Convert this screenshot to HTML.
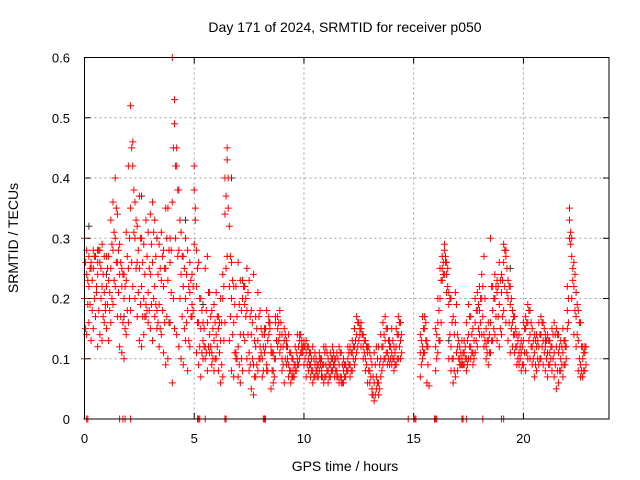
<!DOCTYPE html>
<html><head><meta charset="utf-8"><style>
body{margin:0;background:#fff;}
svg{display:block;font-family:"Liberation Sans",sans-serif;}
</style></head><body>
<svg id="chart" width="640" height="480" viewBox="0 0 640 480" xmlns="http://www.w3.org/2000/svg">
<rect width="640" height="480" fill="#fff"/>
<text x="345" y="32" font-size="14" text-anchor="middle" fill="#000">Day 171 of 2024, SRMTID for receiver p050</text>
<text transform="translate(18,238) rotate(-90)" font-size="14" text-anchor="middle" fill="#000">SRMTID / TECUs</text>
<text x="345" y="471" font-size="14" text-anchor="middle" fill="#000">GPS time / hours</text>
<g id="grid"></g>
<g id="ticks"></g>
<g id="black"></g>
<g id="red"></g>
<rect x="84.5" y="57.5" width="524.5" height="361.5" fill="none" stroke="#000" stroke-width="1"/>
</svg>
<script>
// red series values in units of 0.01 TECU, one column per 0.1 h starting at 0 h
const v1=[20,24,22,26,25,27,24,26,22,21, 22,23,25,28,30,26,24,22,20,23, 25,35,42,30,26,25,22,20,19,21, 24,26,22,18,19,23,22,25,23,26, 36,53,45,28,24,22,20,18,21,19, 38,22,16,15,13,12,16,14,11,13, 14,15,13,20,34,45,22,20,16,11, 12,14,20,22,18,11,14,9,12,13, 12,10,14,9,17,11,8,16,15,14, 10,13,12,9,8,8,9,10,13,11, 12,11,10,9,8,9,8,10,8,9, 9,8,9,10,9,8,9,7,8,9, 10,9,11,12,14,16,16,12,10,11, 8,5,6,7,6,10,12,13,11,12, 11,10,12,14,13,null,null,null,null,null, null,null,null,11,12,15,12,null,null,null, 12,16,20,25,28,24,19,12,10,16, 12,10,10,11,10,14,12,11,16,18, 18,20,14,12,13,16,18,20,21,19, 21,26,27,20,19,16,14,12,11,11, 13,15,16,14,12,11,12,12,14,13, 12,11,11,12,11,12,11,10,11,12, 18,33,27,22,17,13,9,10,11,null];
const v2=[30,28,27,25,28,27,26,28,29,27, 27,27,33,36,40,34,29,25,24,31, 42,52,46,36,32,37,30,29,33,31, 34,36,33,30,29,31,28,35,35,30, 60,49,42,38,31,27,30,28,26,24, 42,28,26,20,16,25,27,21,18,19, 21,17,20,24,40,43,32,26,22,22, 26,23,23,19,25,23,18,24,17,21, 18,14,15,18,16,12,11,17,17,18, 14,15,13,14,11,10,12,14,14,13, 13,13,12,11,12,11,9,11,10,12, 12,10,11,12,10,11,12,11,10,9, 12,12,13,15,17,16,15,14,13,12, 11,9,11,12,12,14,16,17,15,13, 15,12,15,17,16,null,null,null,null,null, null,null,null,14,17,17,13,null,null,null, 15,20,25,27,29,26,21,20,17,21, 14,12,13,13,16,19,17,15,20,21, 22,24,27,15,16,30,22,24,23,26, 24,29,28,23,22,18,17,14,14,13, 16,17,19,18,15,14,14,16,17,16, 14,14,13,15,16,15,14,13,15,13, 22,35,30,26,21,18,16,12,12,null];
const v3=[10,14,16,13,15,17,12,14,13,16, 15,13,16,19,22,17,12,11,10,14, 16,18,22,20,17,13,12,14,17,16, 15,13,17,15,12,14,11,9,10,16, 6,15,14,12,10,9,13,8,12,17, 29,11,9,7,10,10,8,11,9,8, 10,8,6,7,16,27,13,8,7,10, 7,6,8,13,10,8,5,4,7,8, 10,7,11,8,14,5,6,10,12,11, 8,6,9,7,6,7,8,9,10,12, 9,7,8,7,6,7,7,8,7,6, 7,6,7,8,7,7,6,6,6,7, 8,7,8,9,11,13,12,10,8,6, 6,4,3,5,4,7,9,10,9,9, 9,8,9,10,10,null,null,null,null,null, null,null,null,7,10,11,6,5.5,null,null, 8,11,13,23,24,21,10,8,6,7, 8,9,9,9,8,10,10,9,11,12, 14,14,12,10,9,11,13,14,13,12, 14,18,16,13,11,12,11,9,9,8, 9,8,10,10,9,7,8,9,10,9, 8,7,9,8,7,5,6,8,7,9, 15,30,20,14,12,8,7,7,8,null];
// offset series, one column per 0.1 h starting at 0.05 h
const v4=[26,23,25,23,27,22,28,25,24,19, 25,21,29,31,35,28,26,24,22,27, 30,45,38,33,28,30,26,24,27,25, 29,31,27,24,25,27,25,30,28,28, 45,42,38,33,27,25,24,22,23,22, 35,25,20,18,15,18,21,17,15,16, 17,16,16,22,37,40,27,23,19,17, 19,18,22,20,21,17,16,13,15,17, 15,12,15,13,16,11,10,13,16,16, 12,14,12,11,10,9,11,12,14,12, 12,12,11,10,10,10,9,10,9,11, 11,9,10,11,10,10,11,9,9,8, 11,11,12,13,16,15,14,13,12,12, 10,7,9,10,9,12,14,15,13,12, 13,11,14,16,14,null,null,null,null,null, null,null,null,13,15,16,12,null,null,null, 14,18,23,26,27,25,20,16,14,19, 13,11,11,12,13,17,14,13,18,19, 20,22,20,13,14,22,20,22,22,23, 23,28,25,22,20,17,15,13,12,12, 15,16,18,16,13,13,13,14,16,15, 13,13,12,14,14,14,12,12,13,12, 20,29,25,24,19,16,12,11,12,null];
const v5=[15,19,19,18,20,21,18,20,17,18, 19,18,20,23,26,21,17,16,15,18, 20,26,31,25,21,19,17,17,18,18, 19,20,19,16,15,18,16,17,16,21, 20,30,27,20,17,15,16,13,17,18, 33,16,12,11,12,11,12,12,10,10, 12,11,9,13,25,35,17,14,11,10, 9,10,14,17,14,9,10,7,9,10, 11,8,12,8,15,8,7,13,13,12, 9,10,10,8,7,7,8,9,11,11, 10,9,9,8,7,8,7,9,7,7, 8,7,8,9,8,7,7,6,7,8, 9,8,10,10,12,14,14,11,9,8, 7,4,4,6,5,8,10,11,10,10, 10,9,10,12,11,null,null,null,null,null, null,null,null,9,11,13,9,null,null,null, 10,13,16,24,26,22,14,10,8,11, 10,9,9,10,9,12,11,10,13,15, 16,17,13,11,11,13,15,17,17,15, 17,22,21,16,15,14,12,10,10,9, 11,11,13,12,10,9,10,10,12,11, 10,9,10,10,9,8,8,9,9,10, 16,31,23,18,14,10,8,8,9,null];
const zeroTimes=[0.1,0.15,1.6,1.75,1.85,2.1,5.15,5.2,5.25,5.5,6.4,6.45,8.15,8.2,8.25,14.75,15.0,15.05,15.1,15.95,16.0,16.05,17.2,17.25,17.4,18.15,19.0,19.1];
const blackTimes=[0.2,0.6,1.0,1.8,2.6,3.3,4.6,5.4,6.7,7.3,12.3,16.6,18.7,19.4,21.0];
const blackVals=[0.32,0.28,0.24,0.17,0.37,0.30,0.33,0.19,0.40,0.22,0.15,0.13,0.20,0.25,0.13];
const xTicks=[0,5,10,15,20];
const yTicks=[0,0.1,0.2,0.3,0.4,0.5,0.6];
const T0=0, DT=0.1, T_OFF=0.05;

const NS="http://www.w3.org/2000/svg";
const X0=84.5,X1=609,Y0=419,Y1=57.5,XMAX=23.9,YMAX=0.6;
const xs=h=>X0+(h/XMAX)*(X1-X0);
const ys=v=>Y0-(v/YMAX)*(Y0-Y1);
function mk(tag,at,parent){const e=document.createElementNS(NS,tag);for(const k in at)e.setAttribute(k,at[k]);parent.appendChild(e);return e;}
const grid=document.getElementById('grid'),ticks=document.getElementById('ticks');
xTicks.forEach(t=>{
  const x=xs(t);
  if(t>0){const g=mk('line',{x1:x,x2:x,y1:Y1,y2:Y0,stroke:'#a0a0a0','stroke-dasharray':'2,3'},grid);
  
  }
  mk('line',{x1:x,x2:x,y1:Y0,y2:Y0-6,stroke:'#000'},ticks);
  mk('line',{x1:x,x2:x,y1:Y1,y2:Y1+6,stroke:'#000'},ticks);
  const l=mk('text',{x:x,y:443,'font-size':13,'text-anchor':'middle',fill:'#000'},ticks);
  l.textContent=t;
  
  
});
yTicks.forEach(t=>{
  const y=ys(t);
  if(t>0&&t<0.6){const g=mk('line',{x1:X0,x2:X1,y1:y,y2:y,stroke:'#a0a0a0','stroke-dasharray':'2,3'},grid);
  
  }
  mk('line',{x1:X0,x2:X0+6,y1:y,y2:y,stroke:'#000'},ticks);
  mk('line',{x1:X1,x2:X1-6,y1:y,y2:y,stroke:'#000'},ticks);
  const l=mk('text',{x:70,y:y+5,'font-size':13,'text-anchor':'end',fill:'#000'},ticks);
  l.textContent=t===0?'0':t.toFixed(1);
  
  
});
function plus(g,h,v,color){
  const x=xs(h),y=ys(v);
  const p=mk('path',{d:`M${x-3.5},${y}H${x+3.5}M${x},${y-3.5}V${y+3.5}`,stroke:color,'stroke-width':1,fill:'none'},g);
  
  
}
const black=document.getElementById('black'),red=document.getElementById('red');
blackTimes.forEach((h,i)=>plus(black,h,blackVals[i],'#333'));
[v1,v2,v3].forEach(arr=>arr.forEach((v,i)=>{if(v!==null)plus(red,T0+i*DT,v/100,'#f00');}));
[v4,v5].forEach(arr=>arr.forEach((v,i)=>{if(v!==null)plus(red,T0+T_OFF+i*DT,v/100,'#f00');}));
zeroTimes.forEach(h=>plus(red,h,0,'#f00'));
</script>
</body></html>
